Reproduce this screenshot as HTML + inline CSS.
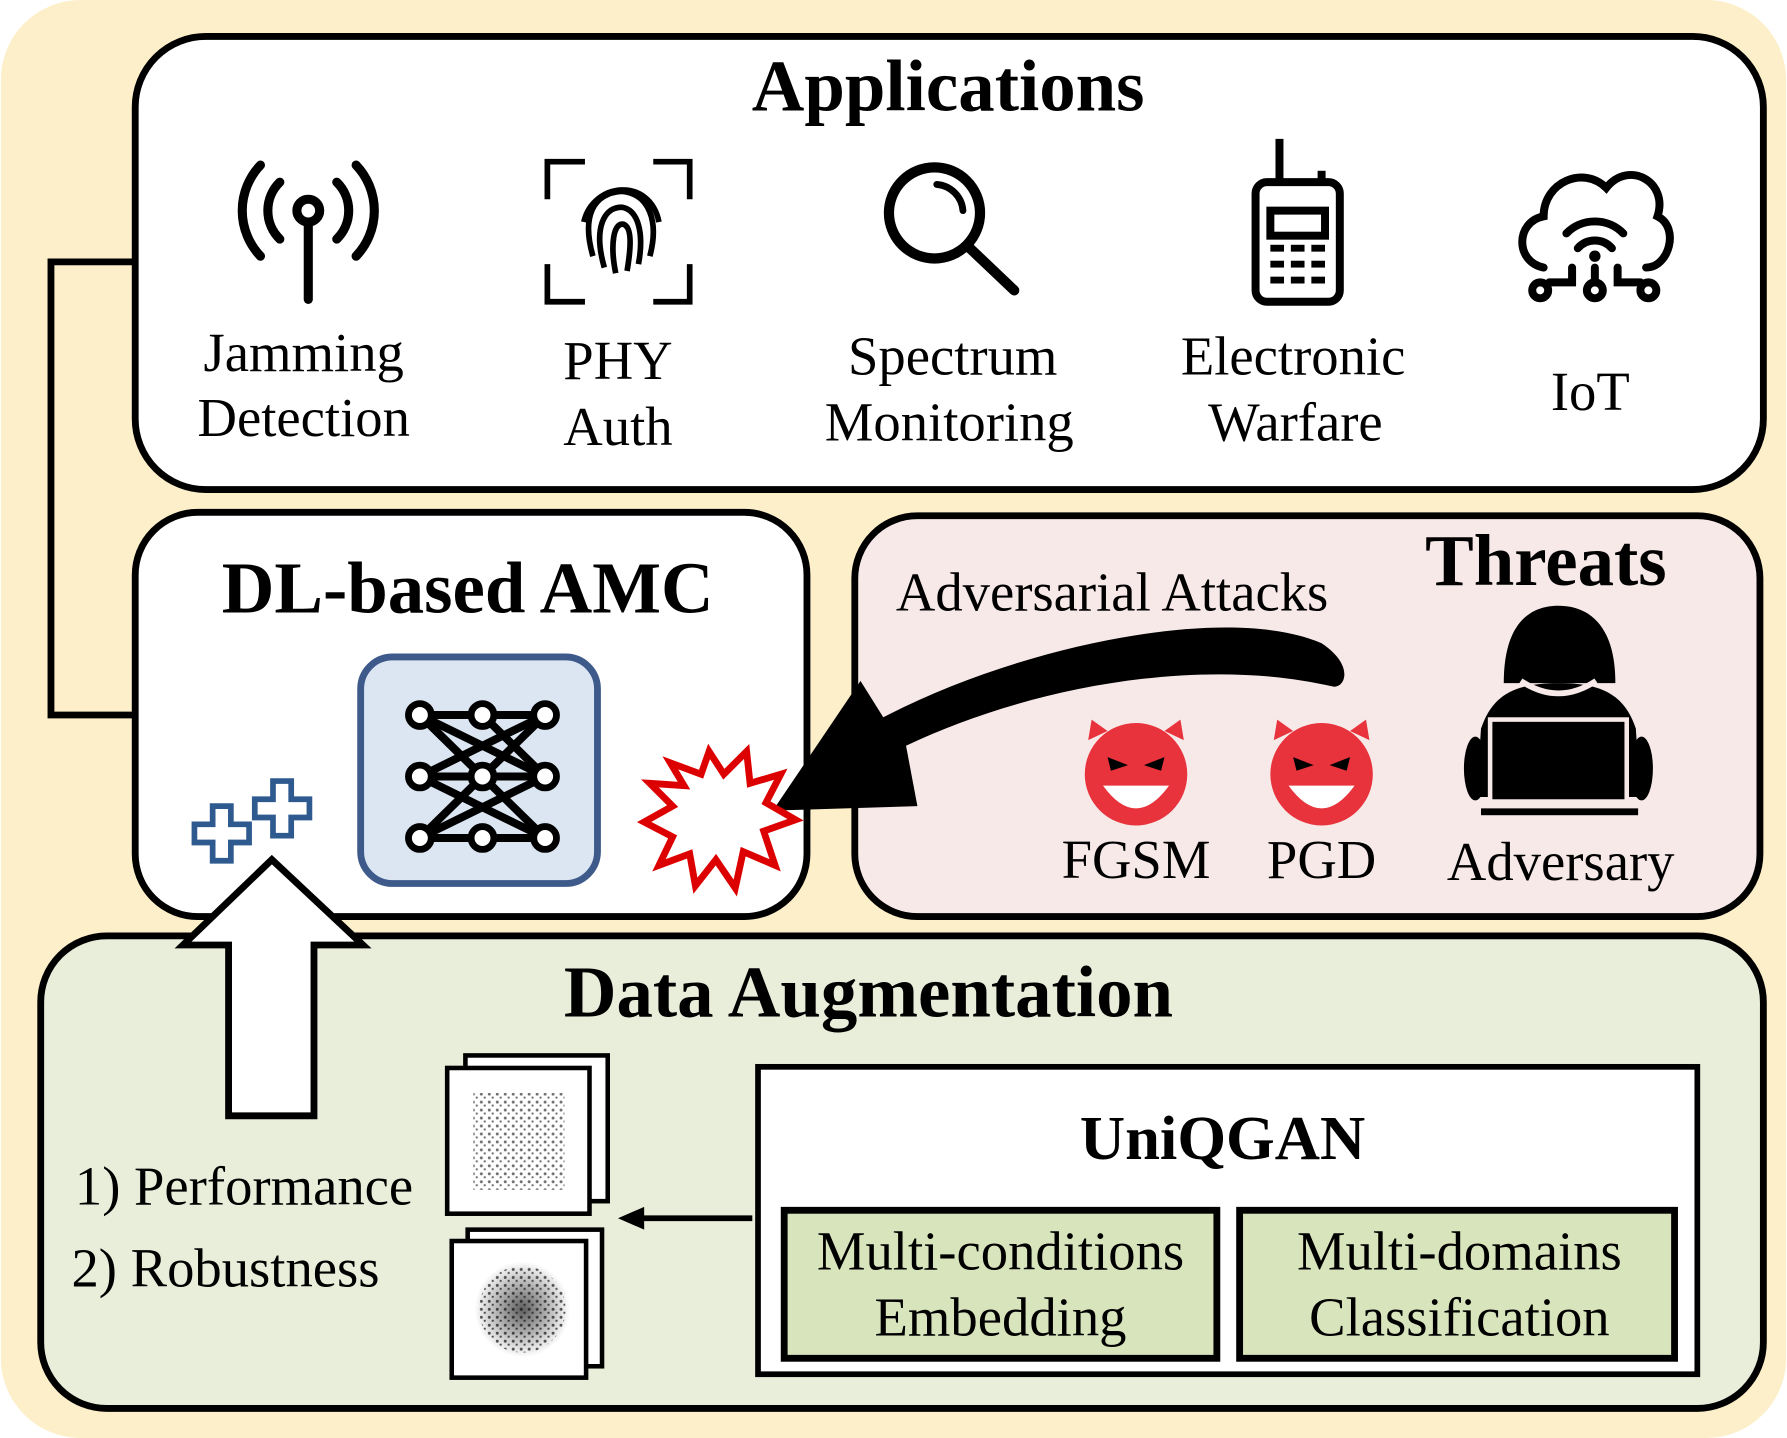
<!DOCTYPE html>
<html><head><meta charset="utf-8"><style>
html,body{margin:0;padding:0;background:#fff;}
svg{display:block;}
text{font-family:"Liberation Serif",serif;}
</style></head><body>
<svg width="1787" height="1438" viewBox="0 0 1568 1263" xmlns="http://www.w3.org/2000/svg">
<defs>
<pattern id="n" width="7" height="7" patternUnits="userSpaceOnUse"><circle cx="2" cy="2" r="1.3" fill="#111"/><circle cx="5" cy="5" r="1" fill="#111"/></pattern>
<radialGradient id="g"><stop offset="0" stop-color="#000" stop-opacity="0.9"/><stop offset="1" stop-color="#000" stop-opacity="0"/></radialGradient>
</defs>
<rect x="0" y="0" width="1568" height="1263" rx="70" fill="#fcefc9"/>
<polyline points="118,230 44,230 44,628 118,628" fill="none" stroke="#000" stroke-width="6"/>
<rect x="118" y="32" width="1430" height="398" rx="62" fill="#fff" stroke="#000" stroke-width="6"/>
<text x="832" y="97" font-size="64" font-weight="bold" text-anchor="middle">Applications</text>
<g font-size="48" text-anchor="middle">
<text x="266" y="326">Jamming</text><text x="266" y="383">Detection</text>
<text x="542" y="333">PHY</text><text x="542" y="391">Auth</text>
<text x="836" y="329">Spectrum</text><text x="833" y="387">Monitoring</text>
<text x="1135" y="329">Electronic</text><text x="1137" y="387">Warfare</text>
<text x="1396" y="360">IoT</text>
</g>
<g stroke="#000" stroke-width="8" fill="none" stroke-linecap="round">
<circle cx="270" cy="185" r="10"/><line x1="270" y1="195" x2="270" y2="263"/>
<path d="M245 160 A35 35 0 0 0 245 210"/><path d="M295 160 A35 35 0 0 1 295 210"/>
<path d="M228 145 A58 58 0 0 0 228 225"/><path d="M312 145 A58 58 0 0 1 312 225"/>
</g>
<g stroke="#000" stroke-width="5" fill="none">
<path d="M480 175 V142 H513 M573 142 H605 V175 M605 232 V265 H573 M513 265 H480 V232"/>
<path d="M520 225 C510 190 520 170 545 168 C570 170 578 195 570 225"/>
<path d="M530 235 C520 200 530 182 545 182 C560 184 565 205 560 232"/>
<path d="M540 240 C535 215 538 195 547 197 C555 200 553 220 550 238"/>
<path d="M512 195 C520 160 570 155 578 195"/>
</g>
<g stroke="#000" stroke-width="9" fill="none" stroke-linecap="round">
<circle cx="820" cy="187" r="40"/><line x1="850" y1="217" x2="890" y2="255"/>
<path d="M822 162 A25 25 0 0 1 845 185" stroke-width="6"/>
</g>
<g stroke="#000" stroke-width="7" fill="none">
<line x1="1123" y1="122" x2="1123" y2="160"/>
<rect x="1102" y="160" width="74" height="105" rx="10"/>
<rect x="1115" y="185" width="48" height="22"/>
<line x1="1160" y1="150" x2="1160" y2="160"/>
</g>
<g fill="#000"><rect x="1115" y="215" width="12" height="6"/><rect x="1133" y="215" width="12" height="6"/><rect x="1151" y="215" width="12" height="6"/>
<rect x="1115" y="229" width="12" height="6"/><rect x="1133" y="229" width="12" height="6"/><rect x="1151" y="229" width="12" height="6"/>
<rect x="1115" y="243" width="12" height="6"/><rect x="1133" y="243" width="12" height="6"/><rect x="1151" y="243" width="12" height="6"/></g>
<g stroke="#000" stroke-width="7" fill="none" stroke-linecap="round">
<path d="M1355 235 C1330 230 1330 195 1355 190 C1355 160 1390 145 1410 165 C1430 140 1465 160 1455 190 C1475 200 1465 235 1445 235"/>
<path d="M1375 205 A35 35 0 0 1 1425 205"/><path d="M1385 218 A20 20 0 0 1 1415 218"/>
<line x1="1400" y1="235" x2="1400" y2="248"/><circle cx="1400" cy="255" r="7"/>
<path d="M1380 235 V248 H1360"/><circle cx="1352" cy="255" r="7"/>
<path d="M1420 235 V248 H1440"/><circle cx="1447" cy="255" r="7"/>
</g>
<circle cx="1400" cy="225" r="5" fill="#000"/>
<rect x="118" y="450" width="590" height="355" rx="55" fill="#fff" stroke="#000" stroke-width="6"/>
<text x="410" y="538" font-size="64" font-weight="bold" text-anchor="middle">DL-based AMC</text>
<rect x="316" y="577" width="208" height="199" rx="28" fill="#dce6f2" stroke="#3d5a8a" stroke-width="6"/>
<g stroke="#000" stroke-width="7" fill="none">
<line x1="368" y1="628" x2="478" y2="628"/><line x1="368" y1="682" x2="478" y2="682"/><line x1="368" y1="736" x2="478" y2="736"/>
<line x1="368" y1="628" x2="478" y2="736"/><line x1="368" y1="736" x2="478" y2="628"/>
<line x1="368" y1="628" x2="478" y2="682"/><line x1="368" y1="682" x2="478" y2="628"/>
<line x1="368" y1="682" x2="478" y2="736"/><line x1="368" y1="736" x2="478" y2="682"/>
<line x1="368" y1="628" x2="423" y2="682"/><line x1="423" y1="628" x2="478" y2="682"/>
</g>
<g fill="#fff" stroke="#000" stroke-width="6">
<circle cx="368" cy="628" r="10"/><circle cx="423" cy="628" r="10"/><circle cx="478" cy="628" r="10"/>
<circle cx="368" cy="682" r="10"/><circle cx="423" cy="682" r="10"/><circle cx="478" cy="682" r="10"/>
<circle cx="368" cy="736" r="10"/><circle cx="423" cy="736" r="10"/><circle cx="478" cy="736" r="10"/>
</g>
<g fill="#fff" stroke="#2e5a8f" stroke-width="5">
<path d="M186 708 h16 v16 h16 v16 h-16 v16 h-16 v-16 h-16 v-16 h16z"/>
<path d="M239 686 h16 v16 h16 v16 h-16 v16 h-16 v-16 h-16 v-16 h16z"/>
</g>
<rect x="750" y="453" width="795" height="352" rx="55" fill="#f7e9e8" stroke="#000" stroke-width="6"/>
<text x="1357" y="514" font-size="64" font-weight="bold" text-anchor="middle">Threats</text>
<text x="976" y="536" font-size="48" text-anchor="middle">Adversarial Attacks</text>
<g font-size="48" text-anchor="middle">
<text x="997" y="771">FGSM</text><text x="1160" y="771">PGD</text><text x="1370" y="773">Adversary</text>
</g>
<g>
<circle cx="997" cy="680" r="45" fill="#e8323c"/>
<path d="M955 650 L958 632 L972 642Z M1039 650 L1036 632 L1022 642Z" fill="#e8323c"/>
<path d="M968 690 Q997 730 1026 690Z" fill="#fff"/>
<path d="M972 665 L990 672 L975 677Z M1022 665 L1004 672 L1019 677Z" fill="#000"/>
<circle cx="1160" cy="680" r="45" fill="#e8323c"/>
<path d="M1118 650 L1121 632 L1135 642Z M1202 650 L1199 632 L1185 642Z" fill="#e8323c"/>
<path d="M1131 690 Q1160 730 1189 690Z" fill="#fff"/>
<path d="M1135 665 L1153 672 L1138 677Z M1185 665 L1167 672 L1182 677Z" fill="#000"/>
</g>
<g fill="#000">
<path d="M1320 600 C1320 545 1345 532 1368 532 C1391 532 1418 545 1418 600Z"/>
<path d="M1300 640 C1310 610 1330 600 1368 600 C1406 600 1426 610 1436 640 L1440 700 L1296 700Z"/>
<rect x="1308" y="632" width="120" height="72" fill="#000" stroke="#f7e9e8" stroke-width="4"/>
<rect x="1300" y="710" width="138" height="6"/>
<ellipse cx="1295" cy="675" rx="10" ry="28"/><ellipse cx="1441" cy="675" rx="10" ry="28"/>
</g>
<path d="M1335 598 Q1368 620 1401 598" stroke="#f7e9e8" stroke-width="5" fill="none"/>
<path d="M1160 565 C1190 585 1180 605 1170 603 C1050 575 900 605 795 655 L805 708 L678 712 L755 598 L775 630 C900 565 1080 530 1160 565Z" fill="#000"/>
<path d="M570 688 L600 690 L588 670 L615 680 L622 660 L635 680 L655 660 L658 688 L685 680 L672 705 L698 720 L670 730 L680 760 L652 748 L645 780 L628 755 L610 778 L605 750 L578 760 L590 735 L565 722 L590 708Z" fill="#fff" stroke="#d00" stroke-width="6"/>
<rect x="35" y="822" width="1513" height="415" rx="58" fill="#e9eedb" stroke="#000" stroke-width="6"/>
<text x="762" y="893" font-size="64" font-weight="bold" text-anchor="middle">Data Augmentation</text>
<path d="M200 980 V830 H160 L238 755 L318 830 H275 V980Z" fill="#fff" stroke="#000" stroke-width="6"/>
<g font-size="48"><text x="65" y="1058">1) Performance</text><text x="62" y="1130">2) Robustness</text></g>
<g fill="#fff" stroke="#000" stroke-width="4">
<rect x="408" y="927" width="125" height="128"/><rect x="392" y="938" width="125" height="128"/>
<rect x="410" y="1080" width="118" height="120"/><rect x="396" y="1090" width="118" height="120"/>
</g>
<rect x="415" y="960" width="80" height="85" fill="url(#n)" opacity="0.6"/>
<circle cx="458" cy="1150" r="42" fill="url(#g)" opacity="0.7"/>
<circle cx="458" cy="1150" r="38" fill="url(#n)" opacity="0.7"/>
<line x1="660" y1="1070" x2="560" y2="1070" stroke="#000" stroke-width="5"/>
<path d="M542 1070 L565 1060 L565 1080Z" fill="#000"/>
<rect x="665" y="937" width="825" height="270" fill="#fff" stroke="#000" stroke-width="5"/>
<text x="1073" y="1018" font-size="55" font-weight="bold" text-anchor="middle">UniQGAN</text>
<rect x="688" y="1063" width="380" height="130" fill="#d8e4bc" stroke="#000" stroke-width="6"/>
<rect x="1088" y="1063" width="382" height="130" fill="#d8e4bc" stroke="#000" stroke-width="6"/>
<g font-size="48" text-anchor="middle">
<text x="878" y="1115">Multi-conditions</text><text x="878" y="1173">Embedding</text>
<text x="1281" y="1115">Multi-domains</text><text x="1281" y="1173">Classification</text>
</g>
</svg>
</body></html>
